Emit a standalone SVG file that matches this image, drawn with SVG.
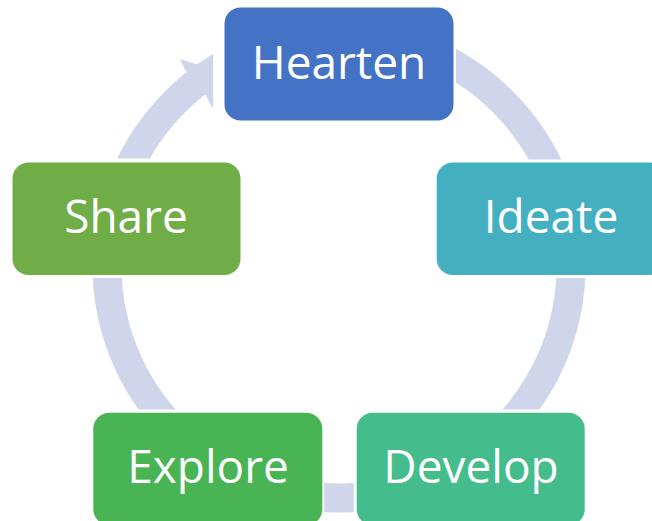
<svg xmlns="http://www.w3.org/2000/svg" width="652" height="521" viewBox="0 0 652 521">
<style>
.box{stroke:none}
.lbl{font-family:"Open Sans","Liberation Sans",sans-serif;font-size:46px;fill:#FFFFFF;text-anchor:middle}
.ring{fill:none;stroke:#CFD5EA;stroke-width:29}
.gap{fill:#FFFFFF}
</style>
<rect x="0" y="0" width="652" height="521" fill="#FFFFFF"/>
<g id="connectors">
<circle class="ring" cx="339" cy="266" r="232"/>
<rect class="gap" x="213" y="4" width="243" height="120"/>
<rect class="gap" x="9.5" y="158.5" width="234" height="119.5"/>
<rect class="gap" x="433.7" y="159.5" width="230" height="118.5"/>
<rect class="gap" x="90" y="409.5" width="234.3" height="120"/>
<rect class="gap" x="353.8" y="409.5" width="240" height="120"/>
<polygon points="180,59 213,69.5 213,108.5 201.5,88 185,70" fill="#CFD5EA"/>
</g>
<g id="hearten">
<rect class="box" x="224.5" y="7.5" width="229" height="113" rx="16" fill="#4472C4"/>
<text class="lbl" x="339" y="79">Hearten</text>
</g>
<g id="ideate">
<rect class="box" x="436.7" y="162.5" width="229" height="112.5" rx="16" fill="#45AFC2"/>
<text class="lbl" x="551" y="233">Ideate</text>
</g>
<g id="develop">
<rect class="box" x="356.7" y="412.7" width="228" height="112.5" rx="16" fill="#44BC8C"/>
<text class="lbl" x="471" y="483">Develop</text>
</g>
<g id="explore">
<rect class="box" x="93.3" y="412.7" width="229" height="112.5" rx="16" fill="#49B453"/>
<text class="lbl" x="208" y="483">Explore</text>
</g>
<g id="share">
<rect class="box" x="12.5" y="162.5" width="228" height="112.5" rx="16" fill="#70AD47"/>
<text class="lbl" x="126" y="233">Share</text>
</g>
</svg>
